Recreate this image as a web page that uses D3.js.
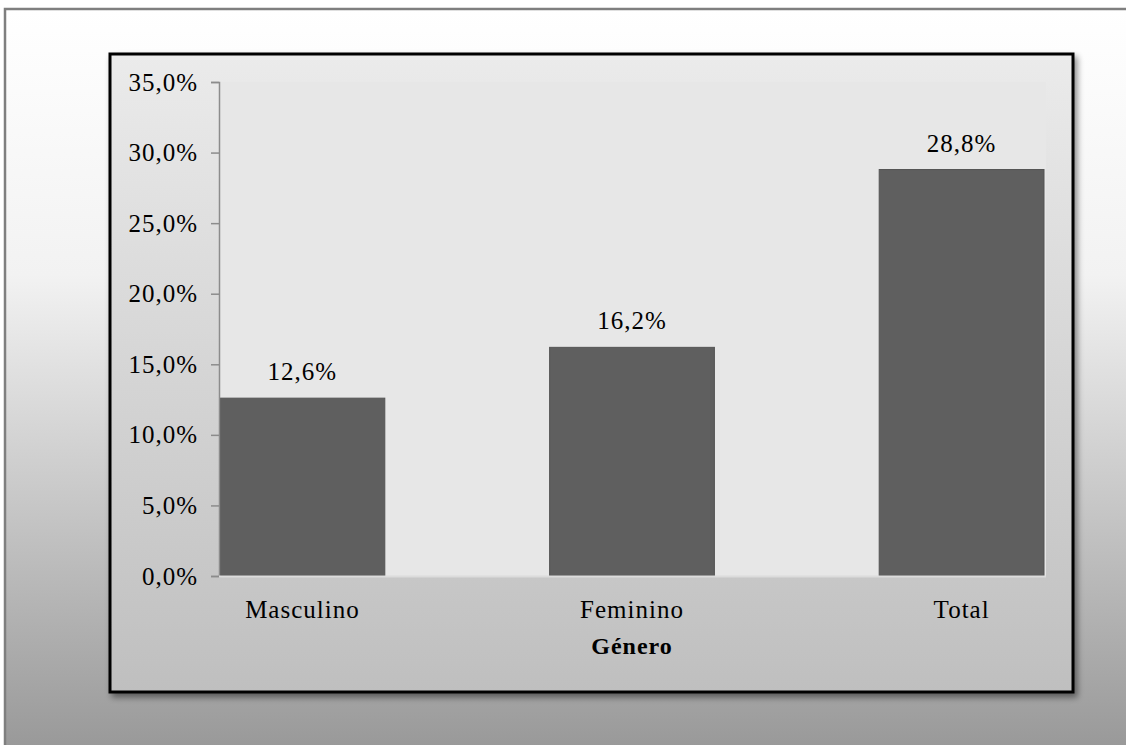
<!DOCTYPE html>
<html>
<head>
<meta charset="utf-8">
<script src="https://cdn.jsdelivr.net/npm/d3@7"></script>
<style>
  html, body { margin: 0; padding: 0; background: #fff; }
  svg { display: block; }
  text { font-family: "Liberation Serif", "Times New Roman", serif; }
</style>
</head>
<body>
<svg id="chart" width="1126" height="745"></svg>
<script>
// Data: share by gender
const categories = ["Masculino", "Feminino", "Total"];
const values = [12.6, 16.2, 28.8];
const yTicks = [0, 5, 10, 15, 20, 25, 30, 35];
const axisTitle = "Género";

const fmt = v => d3.format(".1f")(v).replace(".", ",") + "%";
const serif = "'Liberation Serif', 'Times New Roman', serif";

const svg = d3.select("#chart");
const defs = svg.append("defs");

// Page background gradient
const bgGrad = defs.append("linearGradient").attr("id", "bgGrad")
  .attr("x1", 0).attr("y1", 0).attr("x2", 0).attr("y2", 1);
bgGrad.append("stop").attr("offset", "0%").attr("stop-color", "#ffffff");
bgGrad.append("stop").attr("offset", "35%").attr("stop-color", "#f2f2f2");
bgGrad.append("stop").attr("offset", "100%").attr("stop-color", "#959595");

// Chart area gradient
const boxGrad = defs.append("linearGradient").attr("id", "boxGrad")
  .attr("x1", 0).attr("y1", 0).attr("x2", 0).attr("y2", 1);
boxGrad.append("stop").attr("offset", "0%").attr("stop-color", "#ebebeb");
boxGrad.append("stop").attr("offset", "100%").attr("stop-color", "#bfbfbf");

// Drop shadow
const shadow = defs.append("filter").attr("id", "shadow")
  .attr("x", "-5%").attr("y", "-5%").attr("width", "110%").attr("height", "115%");
shadow.append("feGaussianBlur").attr("in", "SourceAlpha").attr("stdDeviation", 3);
shadow.append("feOffset").attr("dx", 3).attr("dy", 4).attr("result", "off");
shadow.append("feComponentTransfer").append("feFuncA").attr("type", "linear").attr("slope", 0.45);
const merge = shadow.append("feMerge");
merge.append("feMergeNode");
merge.append("feMergeNode").attr("in", "SourceGraphic");

// Outer frame
svg.append("rect")
  .attr("x", 5).attr("y", 9).attr("width", 1140).attr("height", 760)
  .attr("fill", "url(#bgGrad)")
  .attr("stroke", "#7f7f7f").attr("stroke-width", 2.5);

// Chart box
svg.append("rect")
  .attr("x", 110).attr("y", 54).attr("width", 963).attr("height", 638)
  .attr("fill", "url(#boxGrad)")
  .attr("stroke", "#000").attr("stroke-width", 3)
  .attr("filter", "url(#shadow)");

// Plot area
const plot = { left: 219, right: 1046, top: 82, bottom: 576 };

const x = d3.scaleBand()
  .domain(categories)
  .range([plot.left + 1, plot.right - 2])
  .paddingInner(0.5)
  .paddingOuter(0);

const y = d3.scaleLinear()
  .domain([0, 35])
  .range([plot.bottom, plot.top]);

svg.append("rect")
  .attr("x", plot.left).attr("y", plot.top)
  .attr("width", plot.right - plot.left).attr("height", plot.bottom - plot.top)
  .attr("fill", "#e7e7e7");

// Bars
svg.append("g").selectAll("rect")
  .data(values)
  .join("rect")
  .attr("x", (d, i) => x(categories[i]))
  .attr("y", d => y(d))
  .attr("width", x.bandwidth())
  .attr("height", d => y(0) - y(d))
  .attr("fill", "#5f5f5f")
  .attr("stroke", "#555")
  .attr("stroke-width", 1);

// Value labels
svg.append("g").selectAll("text")
  .data(values)
  .join("text")
  .attr("x", (d, i) => x(categories[i]) + x.bandwidth() / 2)
  .attr("y", d => y(d) - 18)
  .attr("text-anchor", "middle")
  .attr("font-size", 25)
  .attr("letter-spacing", 1)
  .attr("fill", "#000")
  .text(d => fmt(d));

// Y axis
const yAxis = svg.append("g")
  .attr("transform", `translate(${plot.left},0)`)
  .call(d3.axisLeft(y).tickValues(yTicks).tickSize(8).tickPadding(13).tickFormat(fmt));
yAxis.attr("font-family", null);
yAxis.select(".domain").attr("stroke", "#8c8c8c").attr("stroke-width", 1.5);
yAxis.selectAll(".tick line").attr("stroke", "#8c8c8c").attr("stroke-width", 1.5);
yAxis.selectAll(".tick text")
  .attr("font-size", 25).attr("letter-spacing", 1)
  .attr("fill", "#000")
  .style("font-family", serif);

// X axis baseline and category labels
const xAxis = svg.append("g")
  .attr("transform", `translate(0,${plot.bottom})`)
  .call(d3.axisBottom(x).tickSize(0).tickPadding(24));
xAxis.attr("font-family", null);
xAxis.select(".domain")
  .attr("d", `M${plot.left},0.5H${plot.right}`)
  .attr("stroke", "#dcdcdc").attr("stroke-width", 2);
xAxis.selectAll(".tick text")
  .attr("font-size", 25).attr("letter-spacing", 1)
  .attr("fill", "#000")
  .style("font-family", serif);

// Axis title
svg.append("text")
  .attr("x", x("Feminino") + x.bandwidth() / 2)
  .attr("y", 654)
  .attr("text-anchor", "middle")
  .attr("font-size", 24)
  .attr("font-weight", "bold")
  .attr("letter-spacing", 1)
  .attr("fill", "#000")
  .text(axisTitle);
</script>
</body>
</html>
